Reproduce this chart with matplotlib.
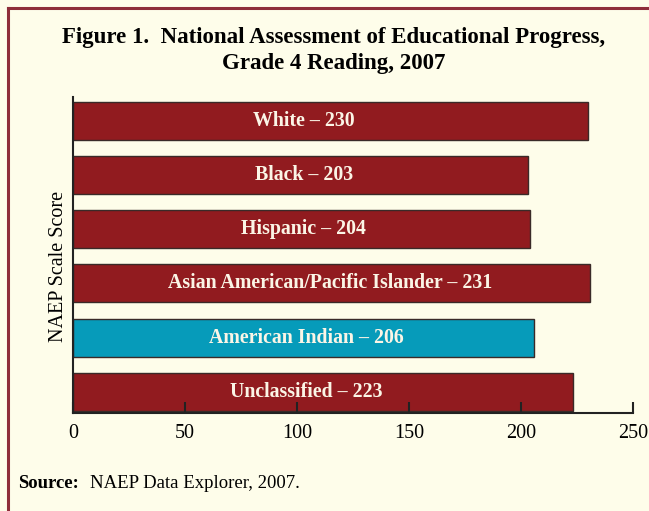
import matplotlib
matplotlib.use("Agg")
import matplotlib.pyplot as plt
from matplotlib.lines import Line2D

categories = ["White", "Black", "Hispanic", "Asian American/Pacific Islander",
              "American Indian", "Unclassified"]
scores = [230, 203, 204, 231, 206, 223]
highlight = "American Indian"
xticks = [0, 50, 100, 150, 200, 250]

BG = "#FEFDEA"
RED = "#911B1F"
TEAL = "#069BBA"
SERIF = ["Liberation Serif", "DejaVu Serif"]

fig = plt.figure(figsize=(6.49, 5.11), dpi=100, facecolor=BG)
ax = fig.add_axes([73/649, 1-413/511, 560/649, 316/511])
ax.set_facecolor(BG)

ypos = list(range(len(categories)))
colors = [TEAL if c == highlight else RED for c in categories]
ax.barh(ypos, scores, height=0.7, color=colors, edgecolor="#3a2a28", linewidth=1.0)

label_x = [103, 103, 103, 115, 104, 104]
for y, c, s, lx in zip(ypos, categories, scores, label_x):
    ax.text(lx, y, f"{c} \u2013 {s}", ha="center", va="center", color="#FBF5E6",
            fontsize=14.3, fontweight="bold", family=SERIF)

ax.set_xlim(0, 250)
ax.set_ylim(5.39, -0.44)
ax.set_yticks([])
ax.set_xticks(xticks)
ax.set_xticklabels([str(t) for t in xticks], family=SERIF, fontsize=14.5)
ax.tick_params(axis="x", direction="in", length=8, width=1.5, color="#222222", pad=8)
for side in ["top", "right"]:
    ax.spines[side].set_visible(False)
ax.spines["left"].set_linewidth(1.5)
ax.spines["left"].set_color("#222222")
ax.spines["bottom"].set_linewidth(1.5)
ax.spines["bottom"].set_color("#222222")
ax.set_ylabel("NAEP Scale Score", family=SERIF, fontsize=14.5)
ax.yaxis.set_label_coords(-0.009, 0.465)

fig.text(0.514, 1-37/511, "Figure 1.  National Assessment of Educational Progress,",
         ha="center", va="center", fontsize=16.5, fontweight="bold", family=SERIF)
fig.text(0.514, 1-64/511, "Grade 4 Reading, 2007",
         ha="center", va="center", fontsize=16.5, fontweight="bold", family=SERIF)

fig.text(18/649, 1-484/511, "Source:", ha="left", va="center",
         fontsize=13.5, fontweight="bold", family=SERIF)
fig.text(90/649, 1-484/511, "NAEP Data Explorer, 2007.", ha="left", va="center",
         fontsize=13.5, family=SERIF)

border = "#8E2E3A"
fig.add_artist(Line2D([8/649, 8/649], [0, 1-8/511], color=border, lw=2.2,
                      transform=fig.transFigure))
fig.add_artist(Line2D([8/649, 1], [1-8/511, 1-8/511], color=border, lw=2.2,
                      transform=fig.transFigure))

fig.savefig("out.png", dpi=100, facecolor=BG)
